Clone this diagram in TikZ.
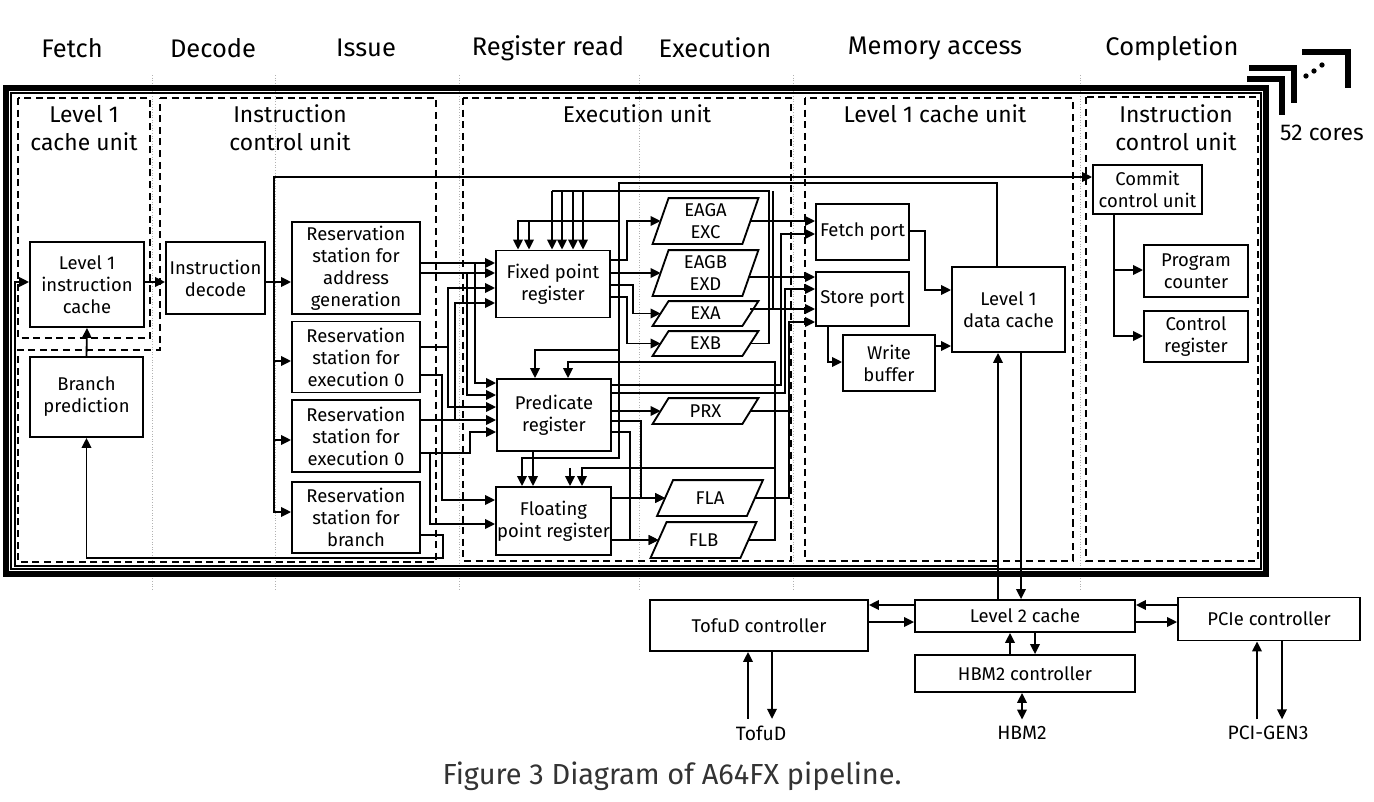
\documentclass[tikz,border=0pt]{standalone}
\usepackage{fontspec}
\setmainfont{Fira Sans}
\usetikzlibrary{arrows.meta}

\begin{document}
\begin{tikzpicture}[x=0.2mm,y=-0.2mm,>={Triangle[length=2mm,width=1.9mm]},line width=1.05pt,
  blk/.style={draw,align=center,inner sep=0pt,font=\fontsize{10.5}{12.5}\selectfont},
  exbox/.style={align=center,inner sep=0pt,minimum width=1.76cm,font=\fontsize{10.5}{12.5}\selectfont},
  unitbox/.style={draw,line width=0.75pt,dash pattern=on 4pt off 2.6pt},
  stagelbl/.style={font=\fontsize{14.5}{17}\selectfont},
  unittitle/.style={align=center,font=\fontsize{13}{16}\selectfont},
  iolbl/.style={font=\fontsize{11}{13}\selectfont}]
  \useasboundingbox (0,0) rectangle (1374,802);

  % pipeline stages
  \foreach \x in {152,275,459,639,793,1080}
    \draw[gray!60,line width=0.5pt,densely dotted] (\x,75) -- (\x,590);
  \node[stagelbl] (sfetch) at (72,48) {Fetch};
  \node[stagelbl] (sdec) at (213,48) {Decode};
  \node[stagelbl] (siss) at (366,48) {Issue};
  \node[stagelbl] (sreg) at (548,48) {Register read};
  \node[stagelbl] (sexe) at (715,48) {Execution};
  \node[stagelbl] (smem) at (935,48) {Memory access};
  \node[stagelbl] (scomp) at (1172,48) {Completion};

  % core frame and the stacked cores
  \draw[line width=3.2pt] (6,88) rectangle (1266,574);
  \draw[line width=0.6pt] (11,93) rectangle (1261,569);
  \draw[line width=3pt] (1247,79) -- (1282,79) -- (1282,115);
  \draw[line width=3pt] (1249,68) -- (1294,68) -- (1294,103);
  \draw[line width=3pt] (1302,52) -- (1348,52) -- (1348,88);
  \foreach \p in {(1306,76),(1314,71),(1322,65)}
    \fill \p circle[radius=1.5pt];
  \node[unittitle] (cores) at (1322,133) {52 cores};

  % units
  \draw[unitbox] (18,98) rectangle (150,338);
  \draw[unitbox] (160,98) -- (436,98) -- (436,562) -- (18,562) -- (18,350) -- (160,350) -- cycle;
  \draw[unitbox] (463,98) rectangle (791,561);
  \draw[unitbox] (805,98) rectangle (1073,561);
  \draw[unitbox] (1086,97) rectangle (1258,561);
  \node[unittitle] (tl1c) at (84,128) {Level 1\\cache unit};
  \node[unittitle] (ticu) at (290,128) {Instruction\\control unit};
  \node[unittitle] (texu) at (637,114) {Execution unit};
  \node[unittitle] (tl1d) at (935,114) {Level 1 cache unit};
  \node[unittitle] (tccu) at (1176,128) {Instruction\\control unit};

  % blocks
  \node[blk,minimum width=2.28cm,minimum height=1.70cm] (l1i) at (87,284.5) {Level 1\\instruction\\cache};
  \node[blk,minimum width=2.26cm,minimum height=1.60cm] (bp) at (86.5,397) {Branch\\prediction};
  \node[blk,minimum width=1.98cm,minimum height=1.44cm] (dec) at (215.5,278) {Instruction\\decode};
  \node[blk,minimum width=2.56cm,minimum height=1.84cm] (rsag) at (356,268) {Reservation\\station for\\address\\generation};
  \node[blk,minimum width=2.56cm,minimum height=1.42cm] (rse0) at (356,357) {Reservation\\station for\\execution 0};
  \node[blk,minimum width=2.56cm,minimum height=1.44cm] (rse1) at (356,436) {Reservation\\station for\\execution 0};
  \node[blk,minimum width=2.56cm,minimum height=1.42cm] (rsbr) at (356,517.5) {Reservation\\station for\\branch};
  \node[blk,minimum width=2.28cm,minimum height=1.34cm] (fxr) at (553,284) {Fixed point\\register};
  \node[blk,minimum width=2.28cm,minimum height=1.44cm] (prr) at (554,415) {Predicate\\register};
  \node[blk,minimum width=2.30cm,minimum height=1.36cm] (fpr) at (553.5,521) {Floating\\point register};
  \node[exbox,minimum height=0.88cm] (eaga) at (705.5,221) {EAGA\\EXC};
  \node[exbox,minimum height=0.88cm] (eagb) at (705.5,273) {EAGB\\EXD};
  \node[exbox,minimum height=0.46cm] (exa) at (705.5,313.5) {EXA};
  \node[exbox,minimum height=0.46cm] (exb) at (705.5,343.5) {EXB};
  \node[exbox,minimum height=0.48cm] (prx) at (705.5,411) {PRX};
  \node[exbox,minimum height=0.68cm] (fla) at (710,498) {FLA};
  \node[exbox,minimum height=0.68cm] (flb) at (703.5,540) {FLB};
  \foreach \n in {eaga,eagb,exa,exb,prx,fla,flb}
    \draw ([xshift=-1.6mm]\n.south west) -- ([xshift=-1.6mm]\n.south east)
      -- ([xshift=1.6mm]\n.north east) -- ([xshift=1.6mm]\n.north west) -- cycle;
  \node[blk,minimum width=1.86cm,minimum height=1.12cm] (fetch) at (862.5,232) {Fetch port};
  \node[blk,minimum width=1.86cm,minimum height=1.08cm] (store) at (862.5,299) {Store port};
  \node[blk,minimum width=1.84cm,minimum height=1.12cm] (wbuf) at (889,363) {Write\\buffer};
  \node[blk,minimum width=2.26cm,minimum height=1.70cm] (l1d) at (1008.5,309.5) {Level 1\\data cache};
  \node[blk,minimum width=2.18cm,minimum height=0.98cm] (commit) at (1147.5,189.5) {Commit\\control unit};
  \node[blk,minimum width=2.08cm,minimum height=1.04cm] (pc) at (1196,271) {Program\\counter};
  \node[blk,minimum width=2.08cm,minimum height=1.02cm] (creg) at (1196,336.5) {Control\\register};

  % outside the cores
  \node[blk,minimum width=4.36cm,minimum height=1.02cm] (tofuc) at (759,625.5) {TofuD controller};
  \node[blk,minimum width=4.40cm,minimum height=0.64cm] (l2) at (1025,616) {Level 2 cache};
  \node[blk,minimum width=3.64cm,minimum height=0.86cm] (pcie) at (1269,619) {PCIe controller};
  \node[blk,minimum width=4.40cm,minimum height=0.74cm] (hbmc) at (1025,673.5) {HBM2 controller};
  \node[iolbl] (tofud) at (761,733) {TofuD};
  \node[iolbl] (hbm) at (1022,733) {HBM2};
  \node[iolbl] (pcigen) at (1268,733) {PCI-GEN3};
  \node[font=\fontsize{16.5}{19}\selectfont,text=black!80] (cap) at (672,776) {Figure 3 Diagram of A64FX pipeline.};

  % fetch, decode, issue
  \draw[->] (bp.north) -- (l1i.south);
  \draw[->] (l1i.east |- 0,282) -- (dec.west |- 0,282);
  \draw[->] (dec.east |- 0,282) -- (rsag.west |- 0,282);
  \draw[->] (274,282) |- (rse0.west |- 0,361);
  \draw[->] (274,282) |- (rse1.west |- 0,440);
  \draw[->] (274,282) |- (rsbr.west |- 0,512);
  \draw[->] (274,282) |- (commit.west |- 0,177);
  \draw[->] (rsbr.east |- 0,535) -- (443,535) |- (bp.south |- 0,558) -- (bp.south);

  % reservation stations to registers
  \draw[->] (rsag.east |- 0,263) -- (fxr.west |- 0,263);
  \draw[->] (rsag.east |- 0,273) -- (fxr.west |- 0,273);
  \draw[->] (475,263) |- (prr.west |- 0,383);
  \draw[->] (467,273) |- (prr.west |- 0,395);
  \draw[->] (rse0.east |- 0,347) -| (448,288) -- (fxr.west |- 0,288);
  \draw[->] (448,347) |- (prr.west |- 0,407);
  \draw[->] (rse0.east |- 0,375) -| (442,500) -- (fpr.west |- 0,500);
  \draw[->] (rse1.east |- 0,420) -| (455,303) -- (fxr.west |- 0,303);
  \draw[->] (455,420) -- (prr.west |- 0,420);
  \draw[->] (rse1.east |- 0,453) -| (470,432) -- (prr.west |- 0,432);
  \draw[->] (430,453) |- (fpr.west |- 0,524);

  % registers to execution
  \draw[->] (fxr.east |- 0,260) -- (627,260) |- (eaga.west);
  \draw[->] (fxr.east |- 0,273) -- (eagb.west |- 0,273);
  \draw[->] (fxr.east |- 0,285) -- (633,285) |- (exa.west);
  \draw[->] (fxr.east |- 0,297) -- (627,297) |- (exb.west);
  \draw[->] (prr.east |- 0,411) -- (prx.west);
  \draw[->] (prr.east |- 0,421) -- (641,421) |- (fla.west);
  \draw[->] (prr.east |- 0,432) -- (630,432) |- (flb.west);
  \draw[->] (fpr.east |- 0,498) -- (fla.west);
  \draw[->] (fpr.east |- 0,540) -- (flb.west);
  \draw[->] (prr.south -| 533,0) -- (fpr.north -| 533,0);

  % write back
  \draw (exb.east) -| (769,191) -- (552,191);
  \draw (exa.east |- 0,309) -| (773,191);
  \foreach \x in {552,562,573,583}
    \draw[->] (\x,191) -- (fxr.north -| \x,0);
  \draw[->] (flb.east) -| (775,362) -| (prr.north -| 568,0);
  \draw[->] (775,468) -| (fpr.north -| 582,0);
  \draw[->] (570,468) -- (fpr.north -| 570,0);
  \draw[->] (l1d.north -| 997,0) |- (619,183) |- (522,458) -- (fpr.north -| 522,0);
  \draw[->] (619,221) -| (fxr.north -| 518,0);
  \draw[->] (529,221) -- (fxr.north -| 529,0);
  \draw[->] (619,350) -| (prr.north -| 535,0);

  % execution to memory ports
  \draw[->] (eaga.east) -- (fetch.west |- 0,221);
  \draw[->] (eagb.east |- 0,277) -- (store.west |- 0,277);
  \draw[->] (exa.east |- 0,309) -- (store.west |- 0,309);
  \draw[->] (prr.east |- 0,385) -| (781,234) -- (fetch.west |- 0,234);
  \draw[->] (prr.east |- 0,393) -| (785,289) -- (store.west |- 0,289);
  \draw[->] (fla.east) -| (789,322) -- (store.west |- 0,322);
  \draw (prx.east) -- (prx.east -| 789,0);

  % memory access
  \draw[->] (fetch.east |- 0,231) -- (925,231) |- (l1d.west |- 0,290);
  \draw[->] (store.south -| 828,0) |- (wbuf.west |- 0,362);
  \draw[->] (wbuf.east |- 0,346) -- (l1d.west |- 0,346);
  \draw[->] (l2.north -| 998,0) -- (l1d.south -| 998,0);
  \draw[->] (l1d.south -| 1021,0) -- (l2.north -| 1021,0);
  \draw[->] (998,566) -| (15,282) -- (l1i.west |- 0,282);

  % completion
  \draw[->] (commit.south -| 1114,0) |- (pc.west |- 0,270);
  \draw[->] (commit.south -| 1114,0) |- (creg.west |- 0,336);

  % level 2 and interfaces
  \draw[->] (l2.west |- 0,605) -- (tofuc.east |- 0,605);
  \draw[->] (tofuc.east |- 0,622) -- (l2.west |- 0,622);
  \draw[->] (pcie.west |- 0,605) -- (l2.east |- 0,605);
  \draw[->] (l2.east |- 0,622) -- (pcie.west |- 0,622);
  \draw[->] (hbmc.north -| 1010,0) -- (l2.south -| 1010,0);
  \draw[->] (l2.south -| 1035,0) -- (hbmc.north -| 1035,0);
  \draw[<->] (hbmc.south -| 1022,0) -- (hbm.north);
  \draw[->] (tofud.north -| 748,0) -- (tofuc.south -| 748,0);
  \draw[->] (tofuc.south -| 772,0) -- (tofud.north -| 772,0);
  \draw[->] (pcigen.north -| 1257,0) -- (pcie.south -| 1257,0);
  \draw[->] (pcie.south -| 1282,0) -- (pcigen.north -| 1282,0);
\end{tikzpicture}
\end{document}
